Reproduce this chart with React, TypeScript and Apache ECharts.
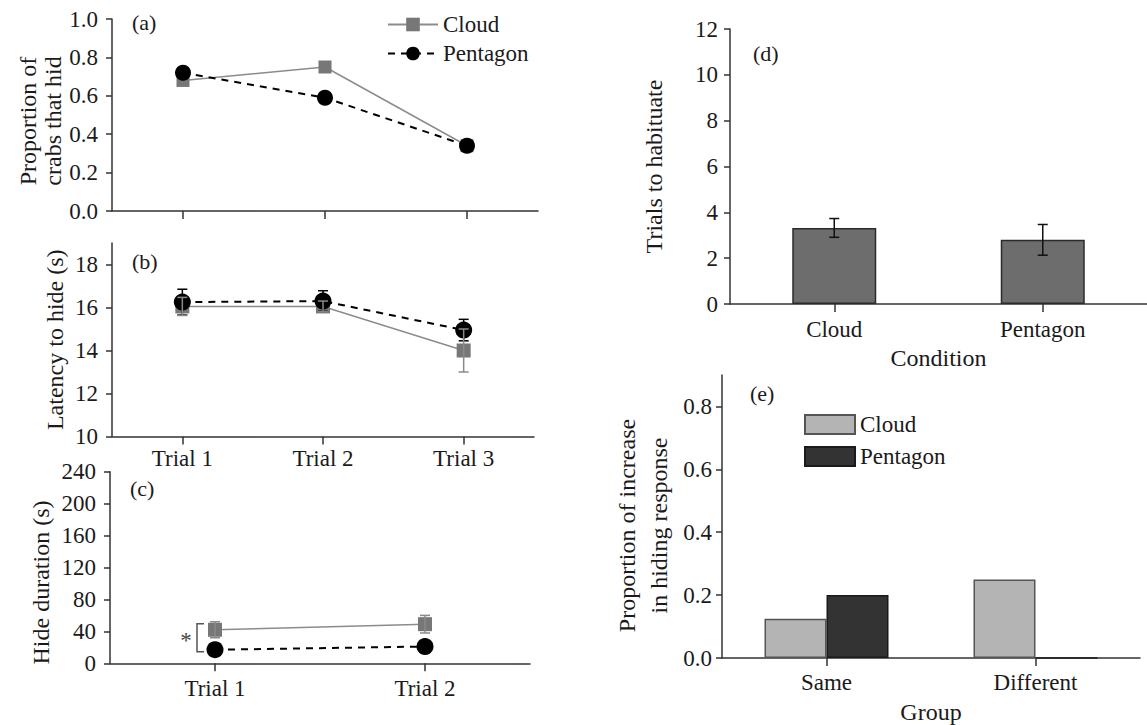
import React, { useEffect, useRef } from 'react';
import * as echarts from 'echarts';

// ---------- data ----------
const trials3 = ['Trial 1', 'Trial 2', 'Trial 3'];
const trials2 = ['Trial 1', 'Trial 2'];

const propCloud = [0.68, 0.75, 0.34];
const propPentagon = [0.72, 0.59, 0.34];

const latencyCloud = [16.05, 16.05, 14.0];
const latencyCloudErr = [0.42, 0.25, 1.0];
const latencyPentagon = [16.25, 16.3, 14.95];
const latencyPentagonErr = [0.6, 0.48, 0.5];

const durationCloud = [42, 49];
const durationCloudErr = [10, 11];
const durationPentagon = [17, 21];
const durationPentagonErr = [4, 4];

const conditions = ['Cloud', 'Pentagon'];
const habituateMeans = [3.32, 2.8];
const habituateErr = [0.41, 0.67];

const groups = ['Same', 'Different'];
const increaseCloud = [0.125, 0.25];
const increasePentagon = [0.2, 0];

const ticksB = [10, 12, 14, 16, 18];
const ticksE = [0, 0.2, 0.4, 0.6, 0.8];

// ---------- styling ----------
const FONT = '"Liberation Serif", "Times New Roman", serif';
const AX = '#333';
const TXT = '#1a1a1a';
const CLOUD_LINE = '#8c8c8c';
const CLOUD_MARK = '#777777';

const errRender = (color: string, cap: number) => (params: any, api: any) => {
  const x = api.value(0);
  const m = api.value(1);
  const e = api.value(2);
  const p1 = api.coord([x, m + e]);
  const p2 = api.coord([x, m - e]);
  const style = { stroke: color, lineWidth: 1.5 };
  return {
    type: 'group',
    children: [
      { type: 'line', shape: { x1: p1[0], y1: p1[1], x2: p2[0], y2: p2[1] }, style },
      { type: 'line', shape: { x1: p1[0] - cap, y1: p1[1], x2: p1[0] + cap, y2: p1[1] }, style },
      { type: 'line', shape: { x1: p2[0] - cap, y1: p2[1], x2: p2[0] + cap, y2: p2[1] }, style },
    ],
  };
};

const bracketRender = (params: any, api: any) => {
  const x = api.value(0);
  const p1 = api.coord([x, api.value(1)]);
  const p2 = api.coord([x, api.value(2)]);
  const bx = p1[0] - 18;
  const y1 = p1[1] - 6;
  const y2 = p2[1] + 2;
  return {
    type: 'group',
    children: [
      {
        type: 'polyline',
        shape: { points: [[p1[0] - 11, y1], [bx, y1], [bx, y2], [p1[0] - 11, y2]] },
        style: { stroke: '#555', lineWidth: 1.5, fill: 'none' },
      },
      {
        type: 'text',
        x: bx - 11,
        y: (y1 + y2) / 2 + 3,
        style: { text: '*', fontFamily: FONT, fontSize: 23, fill: '#444', align: 'center', verticalAlign: 'middle' },
      },
    ],
  };
};

const axisLine = { show: true, lineStyle: { color: AX, width: 1.5 } };
const labelStyle = { fontFamily: FONT, fontSize: 23, color: TXT };
const nameStyle = { fontFamily: FONT, fontSize: 24, color: TXT };
const panelStyle = { fontFamily: FONT, fontSize: 22, fill: TXT, verticalAlign: 'middle' };

const xCat = (gridIndex: number, data: string[], extra: any = {}) => ({
  type: 'category',
  gridIndex,
  data,
  boundaryGap: true,
  axisLine,
  axisTick: { show: true, alignWithLabel: true, length: 8, lineStyle: { color: AX, width: 1.5 } },
  splitLine: { show: false },
  nameTextStyle: nameStyle,
  ...extra,
});

const yVal = (gridIndex: number, extra: any = {}) => ({
  type: 'value',
  gridIndex,
  axisLine,
  axisTick: { show: true, length: 6, lineStyle: { color: AX, width: 1.5 } },
  splitLine: { show: false },
  nameLocation: 'middle',
  nameRotate: 90,
  ...extra,
});

const option: any = {
  animation: false,
  backgroundColor: '#ffffff',
  textStyle: { fontFamily: FONT },
  grid: [
    { left: 112, top: 19, width: 426, height: 192 },
    { left: 112, top: 243, width: 422, height: 193.5 },
    { left: 110, top: 471.7, width: 420, height: 191.6 },
    { left: 730, top: 29, width: 424, height: 275 },
    { left: 722, top: 375, width: 418, height: 286 },
  ],
  legend: [
    {
      orient: 'vertical',
      left: 387,
      top: 13,
      padding: 0,
      itemWidth: 50,
      itemHeight: 17,
      itemGap: 6,
      selectedMode: false,
      data: ['Cloud', 'Pentagon'],
      textStyle: { ...labelStyle, lineHeight: 22 },
    },
    {
      orient: 'vertical',
      left: 804,
      top: 413,
      padding: 0,
      itemWidth: 50,
      itemHeight: 19,
      itemGap: 9,
      icon: 'rect',
      selectedMode: false,
      data: ['Cloud bars', 'Pentagon bars'],
      formatter: (n: string) => n.replace(' bars', ''),
      textStyle: { ...labelStyle, lineHeight: 22 },
    },
  ],
  xAxis: [
    xCat(0, trials3, { axisLabel: { show: false } }),
    xCat(1, trials3, { axisLabel: { ...labelStyle, margin: 10 } }),
    xCat(2, trials2, { axisLabel: { ...labelStyle, margin: 14 } }),
    xCat(3, conditions, {
      axisLabel: { ...labelStyle, margin: 14 },
      name: 'Condition',
      nameLocation: 'middle',
      nameGap: 42,
    }),
    xCat(4, groups, {
      axisLabel: { ...labelStyle, margin: 13 },
      name: 'Group',
      nameLocation: 'middle',
      nameGap: 42,
    }),
  ],
  yAxis: [
    yVal(0, {
      min: 0,
      max: 1,
      interval: 0.2,
      axisLabel: { ...labelStyle, margin: 14, formatter: (v: number) => v.toFixed(1) },
      name: 'Proportion of\ncrabs that hid',
      nameGap: 43,
      nameTextStyle: { ...nameStyle, lineHeight: 25, padding: [0, 12, 0, 0] },
    }),
    yVal(1, {
      min: 10,
      max: 19,
      axisLabel: { ...labelStyle, margin: 14, customValues: ticksB },
      axisTick: { show: true, length: 6, lineStyle: { color: AX, width: 1.5 }, customValues: ticksB },
      name: 'Latency to hide (s)',
      nameGap: 45,
      nameTextStyle: { ...nameStyle },
    }),
    yVal(2, {
      min: 0,
      max: 240,
      interval: 40,
      axisLabel: { ...labelStyle, margin: 14 },
      name: 'Hide duration (s)',
      nameGap: 57,
      nameTextStyle: { ...nameStyle, padding: [0, 30, 0, 0] },
    }),
    yVal(3, {
      min: 0,
      max: 12,
      interval: 2,
      axisLabel: { ...labelStyle, margin: 12 },
      name: 'Trials to habituate',
      nameGap: 64,
      nameTextStyle: { ...nameStyle },
    }),
    yVal(4, {
      min: 0,
      max: 0.9,
      axisLabel: { ...labelStyle, margin: 10, customValues: ticksE, formatter: (v: number) => v.toFixed(1) },
      axisTick: { show: true, length: 6, lineStyle: { color: AX, width: 1.5 }, customValues: ticksE },
      name: 'Proportion of increase\nin hiding response',
      nameGap: 47,
      nameTextStyle: { ...nameStyle, lineHeight: 32, padding: [0, 18, 0, 0] },
    }),
  ],
  graphic: [
    { type: 'text', x: 132, y: 22, style: { text: '(a)', ...panelStyle } },
    { type: 'text', x: 132, y: 261, style: { text: '(b)', ...panelStyle } },
    { type: 'text', x: 130, y: 488, style: { text: '(c)', ...panelStyle } },
    { type: 'text', x: 753, y: 53, style: { text: '(d)', ...panelStyle } },
    { type: 'text', x: 750, y: 393, style: { text: '(e)', ...panelStyle } },
  ],
  series: [
    // (a)
    {
      name: 'Cloud', type: 'line', xAxisIndex: 0, yAxisIndex: 0, data: propCloud,
      symbol: 'rect', symbolSize: 13, z: 2,
      itemStyle: { color: CLOUD_MARK }, lineStyle: { color: CLOUD_LINE, width: 1.5 },
      emphasis: { disabled: true },
    },
    {
      name: 'Pentagon', type: 'line', xAxisIndex: 0, yAxisIndex: 0, data: propPentagon,
      symbol: 'circle', symbolSize: 16, z: 3,
      itemStyle: { color: '#000' }, lineStyle: { color: '#000', width: 2, type: [7, 6] },
      emphasis: { disabled: true },
    },
    // (b)
    {
      name: 'Cloud', type: 'line', xAxisIndex: 1, yAxisIndex: 1, data: latencyCloud,
      symbol: 'rect', symbolSize: 14, z: 2,
      itemStyle: { color: CLOUD_MARK }, lineStyle: { color: CLOUD_LINE, width: 1.5 },
      emphasis: { disabled: true },
    },
    {
      name: 'Pentagon', type: 'line', xAxisIndex: 1, yAxisIndex: 1, data: latencyPentagon,
      symbol: 'circle', symbolSize: 17, z: 3,
      itemStyle: { color: '#000' }, lineStyle: { color: '#000', width: 2, type: [7, 6] },
      emphasis: { disabled: true },
    },
    {
      name: 'Pentagon SE', type: 'custom', xAxisIndex: 1, yAxisIndex: 1, z: 4,
      data: trials3.map((_, i) => [i, latencyPentagon[i], latencyPentagonErr[i]]),
      renderItem: errRender('#000', 5),
    },
    {
      name: 'Cloud SE', type: 'custom', xAxisIndex: 1, yAxisIndex: 1, z: 5,
      data: trials3.map((_, i) => [i, latencyCloud[i], latencyCloudErr[i]]),
      renderItem: errRender('#8a8a8a', 5),
    },
    // (c)
    {
      name: 'Cloud', type: 'line', xAxisIndex: 2, yAxisIndex: 2, data: durationCloud,
      symbol: 'rect', symbolSize: 14, z: 2,
      itemStyle: { color: CLOUD_MARK }, lineStyle: { color: CLOUD_LINE, width: 1.5 },
      emphasis: { disabled: true },
    },
    {
      name: 'Pentagon', type: 'line', xAxisIndex: 2, yAxisIndex: 2, data: durationPentagon,
      symbol: 'circle', symbolSize: 17, z: 3,
      itemStyle: { color: '#000' }, lineStyle: { color: '#000', width: 2, type: [7, 6] },
      emphasis: { disabled: true },
    },
    {
      name: 'Pentagon SE', type: 'custom', xAxisIndex: 2, yAxisIndex: 2, z: 4,
      data: trials2.map((_, i) => [i, durationPentagon[i], durationPentagonErr[i]]),
      renderItem: errRender('#000', 5),
    },
    {
      name: 'Cloud SE', type: 'custom', xAxisIndex: 2, yAxisIndex: 2, z: 5,
      data: trials2.map((_, i) => [i, durationCloud[i], durationCloudErr[i]]),
      renderItem: errRender('#8a8a8a', 5),
    },
    {
      name: 'Significance', type: 'custom', xAxisIndex: 2, yAxisIndex: 2, z: 6,
      data: [[0, durationCloud[0], durationPentagon[0]]],
      renderItem: bracketRender,
    },
    // (d)
    {
      name: 'Trials to habituate', type: 'bar', xAxisIndex: 3, yAxisIndex: 3, data: habituateMeans,
      barWidth: 84, z: 2,
      itemStyle: { color: '#6d6d6d', borderColor: '#2b2b2b', borderWidth: 1.5 },
      emphasis: { disabled: true },
    },
    {
      name: 'Habituation SE', type: 'custom', xAxisIndex: 3, yAxisIndex: 3, z: 4,
      data: conditions.map((_, i) => [i, habituateMeans[i], habituateErr[i]]),
      renderItem: errRender('#111', 5),
    },
    // (e)
    {
      name: 'Cloud bars', type: 'bar', xAxisIndex: 4, yAxisIndex: 4, data: increaseCloud,
      barWidth: 62, barGap: '0%', z: 2,
      itemStyle: { color: '#b4b4b4', borderColor: '#555', borderWidth: 1.5 },
      emphasis: { disabled: true },
    },
    {
      name: 'Pentagon bars', type: 'bar', xAxisIndex: 4, yAxisIndex: 4, data: increasePentagon,
      barWidth: 62, barGap: '0%', z: 2,
      itemStyle: { color: '#333333', borderColor: '#1a1a1a', borderWidth: 1.5 },
      emphasis: { disabled: true },
    },
  ],
};

export default function App() {
  const ref = useRef<HTMLDivElement>(null);
  useEffect(() => {
    document.body.style.margin = '0';
    const chart = echarts.init(ref.current as HTMLDivElement, null, { renderer: 'svg' });
    chart.setOption(option);
    return () => chart.dispose();
  }, []);
  return <div ref={ref} style={{ width: 1147, height: 725, background: '#fff' }} />;
}
